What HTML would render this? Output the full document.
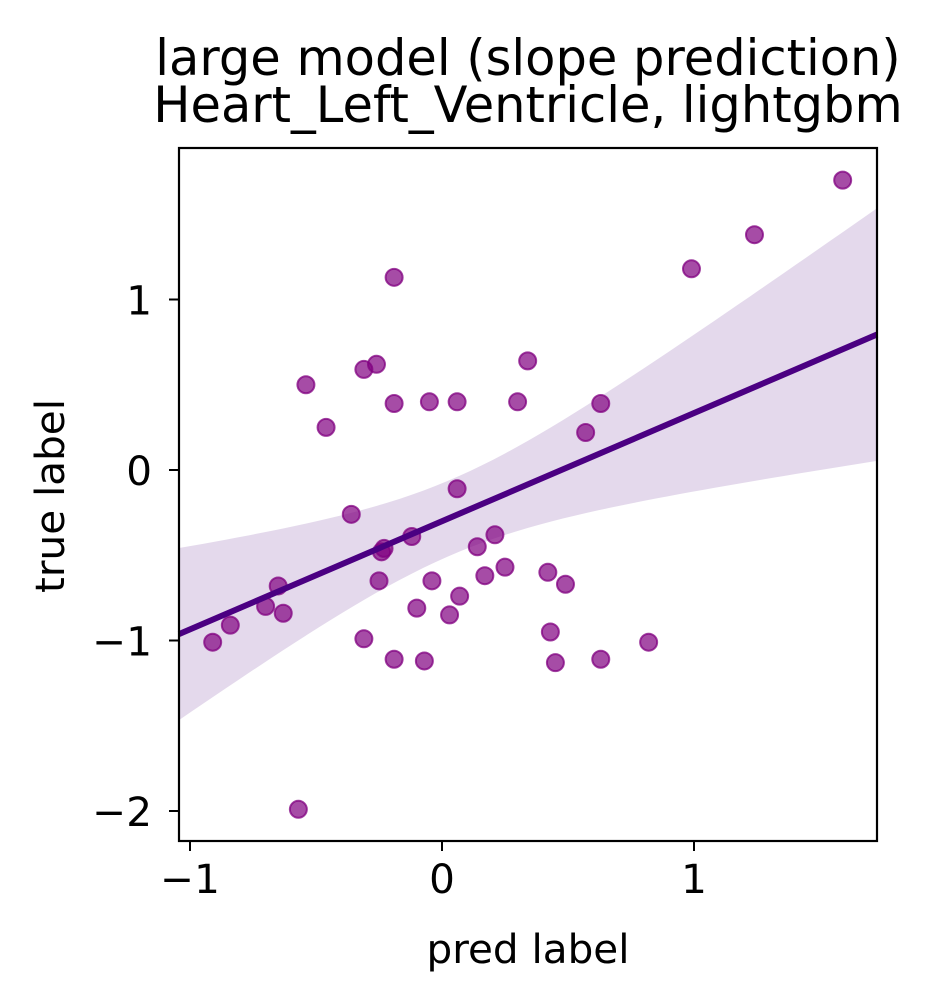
<!DOCTYPE html>
<html><head><meta charset="utf-8"><style>
body{margin:0;background:#fff}
svg text{font-family:"DejaVu Sans","Liberation Sans",sans-serif;fill:#000}
</style></head><body>
<svg id="chart" width="936" height="1001" viewBox="0 0 936 1001" xmlns="http://www.w3.org/2000/svg">
<rect width="936" height="1001" fill="#fff"/>
<text x="528" y="75" font-size="49.5" text-anchor="middle">large model (slope prediction)</text>
<text x="528" y="122" font-size="49.5" text-anchor="middle">Heart_Left_Ventricle, lightgbm</text>
<g id="plot"></g>
<text x="528" y="963" font-size="40.5" text-anchor="middle">pred label</text>
<text transform="translate(64,496) rotate(-90)" font-size="40.5" text-anchor="middle">true label</text>
</svg>
<script>
const predValues=[-0.91,-0.84,-0.70,-0.65,-0.63,-0.57,-0.54,-0.46,-0.36,-0.31,-0.31,-0.26,-0.25,-0.24,-0.23,-0.19,-0.19,-0.19,-0.12,-0.10,-0.07,-0.05,-0.04,0.03,0.06,0.06,0.07,0.14,0.17,0.21,0.25,0.30,0.34,0.42,0.43,0.45,0.49,0.57,0.63,0.63,0.82,0.99,1.24,1.59];
const trueValues=[-1.01,-0.91,-0.80,-0.68,-0.84,-1.99,0.50,0.25,-0.26,-0.99,0.59,0.62,-0.65,-0.48,-0.46,1.13,0.39,-1.11,-0.39,-0.81,-1.12,0.40,-0.65,-0.85,-0.11,0.40,-0.74,-0.45,-0.62,-0.38,-0.57,0.40,0.64,-0.60,-0.95,-1.13,-0.67,0.22,0.39,-1.11,-1.01,1.18,1.38,1.70];
const xTicks=[-1,0,1];
const yTicks=[-2,-1,0,1];
const xTickLabels=["\u22121","0","1"];
const yTickLabels=["\u22122","\u22121","0","1"];

const L=179,R=877,T=148,B=841;
const xMin=(L-442)/252,xMax=(R-442)/252;
const yMax=(470-T)/170.5,yMin=(470-B)/170.5;
const sx=v=>L+(v-xMin)/(xMax-xMin)*(R-L);
const sy=v=>B-(v-yMin)/(yMax-yMin)*(B-T);
const NS="http://www.w3.org/2000/svg";
const g=document.getElementById('plot');
function mk(tag,attrs){const e=document.createElementNS(NS,tag);for(const k in attrs)e.setAttribute(k,attrs[k]);g.appendChild(e);return e;}

const n=predValues.length;
const mx=predValues.reduce((a,b)=>a+b,0)/n, my=trueValues.reduce((a,b)=>a+b,0)/n;
let sxx=0,sxy=0;for(let i=0;i<n;i++){sxx+=(predValues[i]-mx)**2;sxy+=(predValues[i]-mx)*(trueValues[i]-my);}
const slope=sxy/sxx, icpt=my-slope*mx;
let sse=0;for(let i=0;i<n;i++){sse+=(trueValues[i]-icpt-slope*predValues[i])**2;}
const se=Math.sqrt(sse/(n-2)), tval=2.02;
const up=[],lo=[];
for(let k=0;k<=60;k++){const x=xMin+(xMax-xMin)*k/60;const yh=icpt+slope*x;const w=tval*se*Math.sqrt(1/n+(x-mx)**2/sxx);up.push(sx(x)+','+sy(yh+w));lo.unshift(sx(x)+','+sy(yh-w));}
const band=mk('polygon',{points:up.concat(lo).join(' '),fill:'#4b0082','fill-opacity':'0.15'});



const pts=mk('g',{});
predValues.forEach((p,i)=>{
  const c=document.createElementNS(NS,'circle');
  c.setAttribute('cx',sx(p));c.setAttribute('cy',sy(trueValues[i]));c.setAttribute('r',8.5);
  c.setAttribute('fill','#800080');c.setAttribute('fill-opacity','0.7');
  c.setAttribute('stroke','#800080');c.setAttribute('stroke-opacity','0.75');c.setAttribute('stroke-width','2');
  
  
  pts.appendChild(c);
});

const line=mk('line',{x1:sx(xMin),y1:sy(icpt+slope*xMin),x2:sx(xMax),y2:sy(icpt+slope*xMax),stroke:'#4b0082','stroke-width':'6'});



const frame=mk('rect',{x:L,y:T,width:R-L,height:B-T,fill:'none',stroke:'#000','stroke-width':'2.2'});



xTicks.forEach((t,i)=>{
  const tk=mk('line',{x1:sx(t),x2:sx(t),y1:B,y2:B+10,stroke:'#000','stroke-width':'2'});
  
  
  const tx=mk('text',{x:sx(t),y:B+52,'font-size':'40.5','text-anchor':'middle'});
  tx.textContent=xTickLabels[i];
  
  
});
yTicks.forEach((t,i)=>{
  const tk=mk('line',{x1:L-10,x2:L,y1:sy(t),y2:sy(t),stroke:'#000','stroke-width':'2'});
  
  
  const tx=mk('text',{x:L-27,y:sy(t)+15,'font-size':'40.5','text-anchor':'end'});
  tx.textContent=yTickLabels[i];
  
  
});
</script>
</body></html>
